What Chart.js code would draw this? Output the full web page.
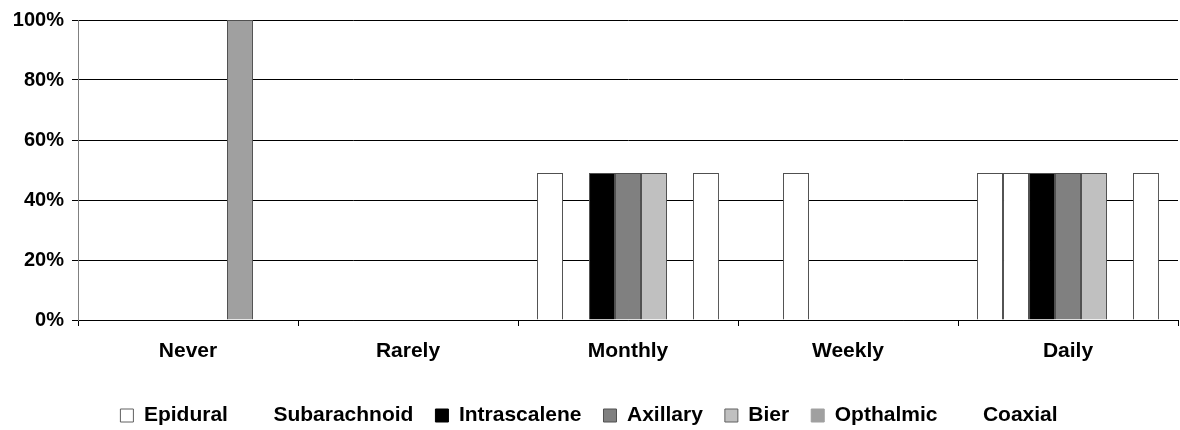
<!DOCTYPE html>
<html>
<head>
<meta charset="utf-8">
<script src="https://cdn.jsdelivr.net/npm/chart.js@4.4.0/dist/chart.umd.min.js"></script>
<style>
  html, body { margin: 0; padding: 0; background: #fff; }
</style>
</head>
<body>
<canvas id="chart" width="1180" height="430"></canvas>
<script>
// categories and series (percent)
const categories   = ['Never', 'Rarely', 'Monthly', 'Weekly', 'Daily'];
const epidural     = [0, 0, 49, 0, 49];
const subarachnoid = [0, 0, 0, 49, 49];
const intrascalene = [0, 0, 49, 0, 49];
const axillary     = [0, 0, 49, 0, 49];
const bier         = [0, 0, 49, 0, 49];
const opthalmic    = [100, 0, 0, 0, 0];
const coaxial      = [0, 0, 49, 0, 49];
const yTicks       = [0, 20, 40, 60, 80, 100];

const FONT = "'Liberation Sans', Arial, sans-serif";
const EDGE = '#505050';

function series(label, data, fill, legendStroke) {
    return {
        label: label, data: data,
        backgroundColor: fill, borderColor: EDGE, borderWidth: 1,
        borderSkipped: 'bottom',
        legendStroke: legendStroke
    };
}

new Chart(document.getElementById('chart'), {
    type: 'bar',
    data: {
        labels: categories,
        datasets: [
            series('Epidural', epidural, '#ffffff', '#606060'),
            series('Subarachnoid', subarachnoid, '#ffffff', '#ffffff'),
            series('Intrascalene', intrascalene, '#000000', '#000000'),
            series('Axillary', axillary, '#808080', '#505050'),
            series('Bier', bier, '#c0c0c0', '#606060'),
            series('Opthalmic', opthalmic, '#a0a0a0', '#a0a0a0'),
            series('Coaxial', coaxial, '#ffffff', '#ffffff')
        ]
    },
    options: {
        responsive: false,
        animation: false,
        devicePixelRatio: 1,
        // legend items are spaced wide, so its box hangs a little past the bottom edge
        layout: { padding: { top: 16, right: 2, left: 0, bottom: -6 } },
        datasets: { bar: { categoryPercentage: 0.827, barPercentage: 1 } },
        scales: {
            x: {
                grid: { display: true, drawOnChartArea: false, drawTicks: true, tickLength: 6, color: '#000', offset: true },
                border: { display: true, color: '#000', width: 1 },
                ticks: {
                    color: '#000', padding: 13, maxRotation: 0, autoSkip: false,
                    font: { family: FONT, size: 21, weight: 'bold' }
                },
                afterFit: function(s) { s.height = 63; }
            },
            y: {
                min: 0, max: 100,
                afterBuildTicks: function(s) { s.ticks = yTicks.map(function(v) { return { value: v }; }); },
                grid: { color: '#000', lineWidth: 1, drawTicks: true, tickLength: 6 },
                border: { display: true, color: '#808080', width: 1 },
                ticks: {
                    color: '#000', padding: 8,
                    font: { family: FONT, size: 20, weight: 'bold' },
                    callback: function(v) { return v + '%'; }
                },
                afterFit: function(s) { s.width = 78; }
            }
        },
        plugins: {
            tooltip: { enabled: false },
            legend: {
                position: 'bottom',
                labels: {
                    color: '#000', boxWidth: 13, boxHeight: 13, padding: 22,
                    font: { family: FONT, size: 21, weight: 'bold' },
                    generateLabels: function(chart) {
                        const items = Chart.defaults.plugins.legend.labels.generateLabels(chart);
                        items.forEach(function(it, i) {
                            it.strokeStyle = chart.data.datasets[i].legendStroke;
                            it.lineWidth = 1;
                        });
                        return items;
                    }
                }
            }
        }
    }
});
</script>
</body>
</html>
